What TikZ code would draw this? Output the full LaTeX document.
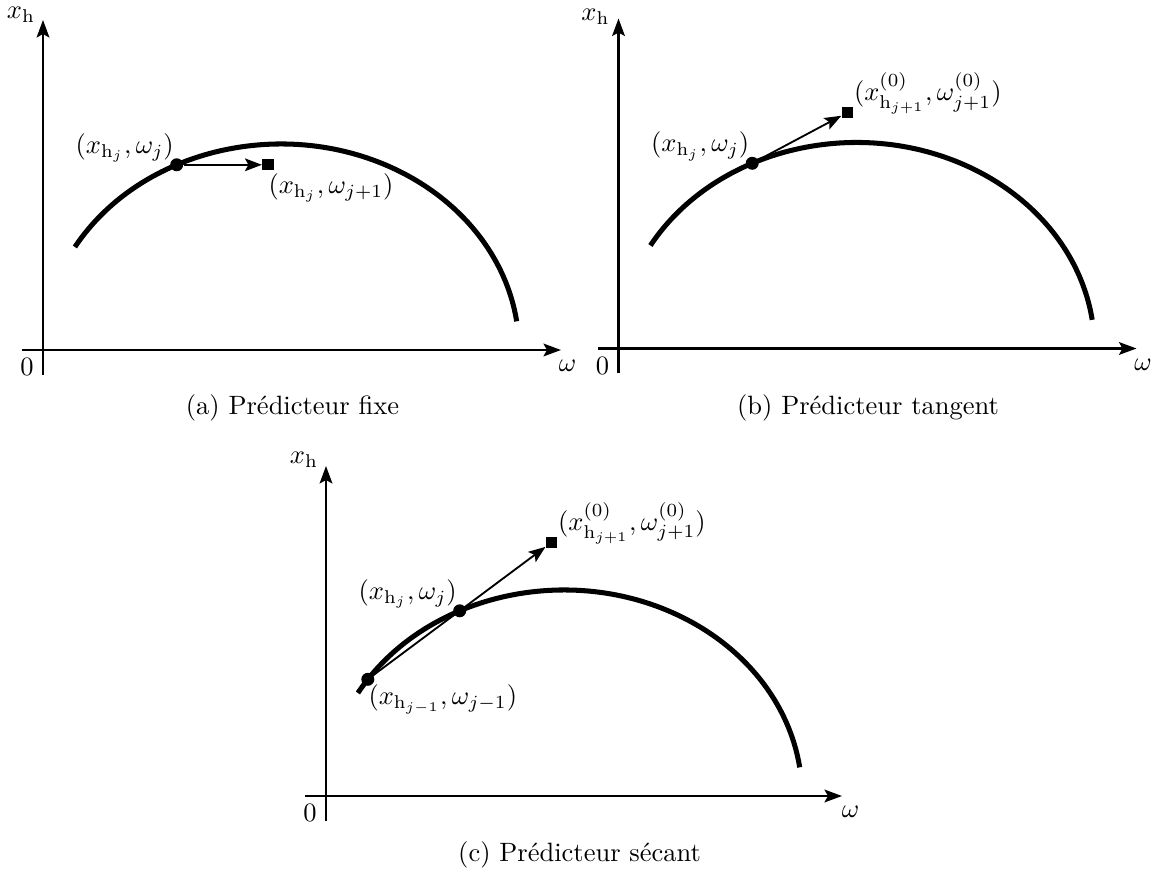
\documentclass[tikz,border=0pt]{standalone}
\usetikzlibrary{arrows.meta}
\begin{document}
\begin{tikzpicture}[x=0.3774pt,y=0.3774pt,
  axis/.style={line width=0.85pt,-{Stealth[length=6.6pt,width=4.8pt,inset=1.3pt]}},
  branch/.style={line width=1.9pt},
  pred/.style={line width=0.7pt,-{Stealth[length=6.4pt,width=4.8pt,inset=1.3pt]}},
  ptc/.style={circle,fill,inner sep=0pt,minimum size=4.9pt},
  sqn/.style={rectangle,fill,inner sep=0pt,minimum size=4.2pt},
  lab/.style={inner sep=0pt}]
\useasboundingbox (0,0) rectangle (1153,872);

% ---------- (a) ----------
\begin{scope}[shift={(43,522)}]
  \coordinate (aL) at (-21,0); \coordinate (aR) at (518,0);
  \coordinate (aB) at (0,-25); \coordinate (aT) at (0,330);
  \draw[axis] (aL) -- (aR);
  \draw[axis] (aB) -- (aT);
  \node[lab] (a0) at (-16,-17) {$0$};
  \node[lab] (aw) at (524.5,-16) {$\omega$};
  \node[lab] (ax) at (-22,335) {$x_\mathrm{h}$};
  \draw[branch] (31.89,103) arc[start angle=150,end angle=8,x radius=238,y radius=206];
  \node[ptc] (aj) at (133.7,185.2) {};
  \node[sqn] (an) at (225,185.2) {};
  \draw[pred] (aj) -- (an);
  \node[lab] (ajl) at (81.7,202.2) {$(x_{\mathrm{h}_j},\omega_j)$};
  \node[lab] (anl) at (288,162.2) {$(x_{\mathrm{h}_j},\omega_{j+1})$};
\end{scope}
\node[lab] (acap) at (292.5,464) {(a) Prédicteur fixe};

% ---------- (b) ----------
\begin{scope}[shift={(618.5,523.5)}]
  \coordinate (bL) at (-21,0); \coordinate (bR) at (518,0);
  \coordinate (bB) at (0,-25); \coordinate (bT) at (0,330);
  \draw[axis] (bL) -- (bR);
  \draw[axis] (bB) -- (bT);
  \node[lab] (b0) at (-16,-17) {$0$};
  \node[lab] (bw) at (524.5,-16) {$\omega$};
  \node[lab] (bx) at (-23,332) {$x_\mathrm{h}$};
  \draw[branch] (31.89,103) arc[start angle=150,end angle=8,x radius=238,y radius=206];
  \node[ptc] (bj) at (133.7,185.2) {};
  \node[sqn] (bn) at (229,236) {};
  \draw[pred] (bj) -- (bn);
  \node[lab] (bjl) at (81.7,202.2) {$(x_{\mathrm{h}_j},\omega_j)$};
  \node[lab,anchor=west] (bnl) at (235,255) {$(x^{(0)}_{\mathrm{h}_{j+1}},\omega^{(0)}_{j+1})$};
\end{scope}
\node[lab] (bcap) at (868,464) {(b) Prédicteur tangent};

% ---------- (c) ----------
\begin{scope}[shift={(326,76)}]
  \coordinate (cL) at (-21,0); \coordinate (cR) at (516,0);
  \coordinate (cB) at (0,-25); \coordinate (cT) at (0,330);
  \draw[axis] (cL) -- (cR);
  \draw[axis] (cB) -- (cT);
  \node[lab] (c0) at (-16,-17) {$0$};
  \node[lab] (cw) at (524.5,-16) {$\omega$};
  \node[lab] (cx) at (-22,336) {$x_\mathrm{h}$};
  \draw[branch] (31.89,103) arc[start angle=150,end angle=8,x radius=238,y radius=206];
  \node[ptc] (cm) at (41.8,116.7) {};
  \node[ptc] (cj) at (133.7,185.2) {};
  \node[sqn] (cn) at (225.6,253.7) {};
  \draw[pred] (cm) -- (cn);
  \node[lab] (cjl) at (81.7,202.2) {$(x_{\mathrm{h}_j},\omega_j)$};
  \node[lab] (cml) at (116.8,96.7) {$(x_{\mathrm{h}_{j-1}},\omega_{j-1})$};
  \node[lab,anchor=west] (cnl) at (231.6,272.7) {$(x^{(0)}_{\mathrm{h}_{j+1}},\omega^{(0)}_{j+1})$};
\end{scope}
\node[lab] (ccap) at (579.6,17.4) {(c) Prédicteur sécant};
\end{tikzpicture}
\end{document}
